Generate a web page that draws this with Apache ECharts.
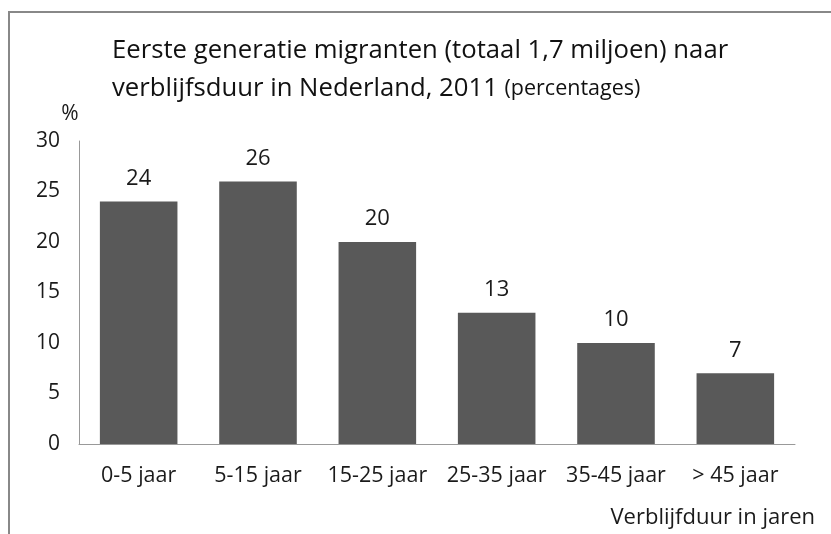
<!DOCTYPE html>
<html>
<head>
<meta charset="utf-8">
<script src="https://cdn.jsdelivr.net/npm/echarts@6/dist/echarts.min.js"></script>
<style>
  html, body { margin: 0; padding: 0; background: #fff; }
  #chart { width: 831px; height: 534px; }
</style>
</head>
<body>
<div id="chart"></div>
<script>
// categorieën en waarden
const categories = ['0-5 jaar', '5-15 jaar', '15-25 jaar', '25-35 jaar', '35-45 jaar', '> 45 jaar'];
const percentages = [24, 26, 20, 13, 10, 7];
const yTicks = [0, 5, 10, 15, 20, 25, 30];

const font = 'Open Sans';
const chart = echarts.init(document.getElementById('chart'));

const option = {
  backgroundColor: '#fff',
  animation: false,
  textStyle: { fontFamily: font },
  title: {
    left: 112,
    top: 32,
    padding: 0,
    text: 'Eerste generatie migranten (totaal 1,7 miljoen) naar\nverblijfsduur in Nederland, 2011 {s|(percentages)}',
    textStyle: {
      fontFamily: font,
      fontSize: 25.7,
      fontWeight: 'normal',
      color: '#111',
      lineHeight: 38,
      rich: {
        s: { fontFamily: font, fontSize: 21.5, color: '#111', lineHeight: 38 }
      }
    }
  },
  graphic: [
    {
      // kader
      type: 'rect',
      shape: { x: 9, y: 12, width: 900, height: 600 },
      style: { fill: 'none', stroke: '#888', lineWidth: 2 }
    }
  ],
  grid: { left: 79, right: 36, top: 141, bottom: 90 },
  xAxis: {
    type: 'category',
    data: categories,
    name: 'Verblijfduur in jaren',
    nameLocation: 'end',
    nameGap: 20,
    nameTextStyle: {
      fontFamily: font, fontSize: 22, color: '#1a1a1a',
      align: 'right', verticalAlign: 'top', padding: [63, 0, 0, 0]
    },
    axisLine: { lineStyle: { color: '#999', width: 1 } },
    axisTick: { show: false },
    axisLabel: { fontFamily: font, fontSize: 21.5, color: '#1a1a1a', margin: 21, interval: 0, hideOverlap: false }
  },
  yAxis: {
    type: 'value',
    min: yTicks[0],
    max: yTicks[yTicks.length - 1],
    interval: 5,
    name: '%',
    nameLocation: 'end',
    nameGap: 16,
    nameTextStyle: { fontFamily: font, fontSize: 21, color: '#1a1a1a', padding: [0, 18, 0, 0] },
    splitLine: { show: false },
    axisLine: { show: true, lineStyle: { color: '#999', width: 1 } },
    axisTick: { show: false },
    axisLabel: { fontFamily: font, fontSize: 21, color: '#1a1a1a', margin: 19 }
  },
  series: [
    {
      type: 'bar',
      data: percentages,
      barWidth: '65%',
      itemStyle: { color: '#595959' },
      label: {
        show: true,
        position: 'top',
        distance: 12,
        fontFamily: font,
        fontSize: 22,
        color: '#1a1a1a'
      }
    }
  ]
};

chart.setOption(option);
</script>
</body>
</html>
